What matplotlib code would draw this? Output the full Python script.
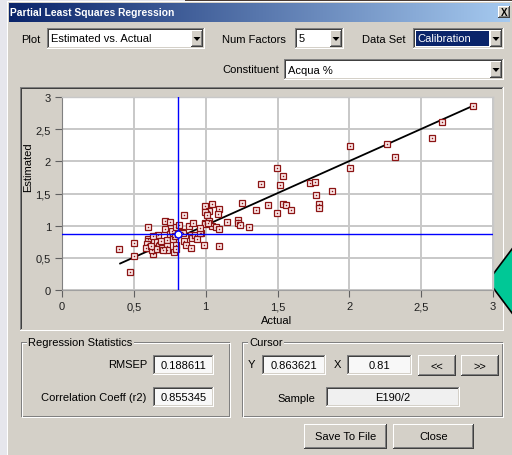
import numpy as np
import matplotlib
matplotlib.use('Agg')
import matplotlib.pyplot as plt
from matplotlib.patches import Rectangle, Polygon

# ---------------- data ----------------
actual = [2.858, 2.642, 2.573, 2.264, 2.320, 2.006, 2.006, 1.499, 1.538, 1.387,
          1.519, 1.728, 1.761, 1.879, 1.770, 1.791, 1.791, 1.536, 1.561, 1.591,
          1.436, 1.352, 1.250, 1.499, 1.227, 1.227, 1.241, 1.301, 1.150, 1.095,
          1.088, 1.046, 0.997, 1.021, 0.997, 1.007, 1.021, 0.997, 0.997, 1.046,
          1.072, 1.095, 0.990, 1.095, 0.967,
          0.399, 0.475, 0.501, 0.499, 0.601, 0.598, 0.598, 0.594, 0.605, 0.585,
          0.631, 0.626, 0.617, 0.654, 0.668, 0.636, 0.663, 0.673, 0.675, 0.661,
          0.696, 0.691, 0.719, 0.749, 0.719, 0.728, 0.733, 0.728, 0.705, 0.752,
          0.768, 0.793, 0.770, 0.775, 0.784, 0.791, 0.781, 0.793, 0.816, 0.849,
          0.810, 0.835, 0.844, 0.849, 0.863, 0.886, 0.914, 0.900, 0.905, 0.896,
          0.926, 0.942, 0.958, 0.960, 1.018]
estimated = [2.860, 2.605, 2.355, 2.270, 2.070, 2.245, 1.890, 1.890, 1.776, 1.651,
             1.625, 1.667, 1.682, 1.542, 1.484, 1.339, 1.276, 1.333, 1.318, 1.245,
             1.328, 1.250, 1.354, 1.193, 1.083, 1.036, 1.010, 0.979, 1.062, 1.260,
             1.177, 1.344, 1.307, 1.234, 1.219, 1.172, 1.067, 1.047, 1.020, 0.995,
             0.979, 0.953, 0.698, 0.677, 0.880,
             0.640, 0.281, 0.521, 0.734, 0.979, 0.797, 0.755, 0.719, 0.656, 0.656,
             0.557, 0.615, 0.677, 0.844, 0.859, 0.833, 0.745, 0.677, 0.630, 0.641,
             0.651, 0.761, 1.073, 1.052, 0.943, 0.781, 0.682, 0.625, 0.625, 0.875,
             0.917, 0.979, 0.818, 0.797, 0.839, 0.693, 0.589, 0.640, 1.016, 1.172,
             0.864, 0.901, 0.891, 0.755, 0.693, 1.000, 1.042, 0.859, 0.812, 0.646,
             0.849, 0.792, 0.885, 0.969, 1.042]
fit_slope = 0.998
fit_intercept = 0.008
cursor_x = 0.81
cursor_y = 0.863621
tick_values = [0, 0.5, 1, 1.5, 2, 2.5, 3]
tick_labels = ['0', '0,5', '1', '1,5', '2', '2,5', '3']

rmsep_text = '0.188611'
r2_text = '0.855345'
cursor_y_text = '0.863621'
cursor_x_text = '0.81'
sample_text = 'E190/2'

FACE = '#d4d0c8'
FONT = 'Liberation Sans'
plt.rcParams['font.family'] = [FONT, 'DejaVu Sans']

W, H = 512, 456
fig = plt.figure(figsize=(W / 100, H / 100), dpi=100)
fig.patch.set_facecolor(FACE)
bg = fig.add_axes([0, 0, 1, 1])
bg.set_xlim(0, W)
bg.set_ylim(H, 0)
bg.axis('off')


def rect(x0, y0, x1, y1, color, z=1):
    bg.add_patch(Rectangle((x0, y0), x1 - x0, y1 - y0, facecolor=color,
                           edgecolor='none', lw=0, zorder=z, antialiased=False))


def hline(x0, x1, y, color, z=2):
    rect(x0, y, x1, y + 1, color, z)


def vline(x, y0, y1, color, z=2):
    rect(x, y0, x + 1, y1, color, z)


def sunken(x0, y0, x1, y1, fill='white', z=1):
    rect(x0, y0, x1, y1, fill, z)
    hline(x0, x1, y0, '#808080', z + 0.1)
    vline(x0, y0, y1, '#808080', z + 0.1)
    hline(x0 + 1, x1 - 1, y0 + 1, '#404040', z + 0.1)
    vline(x0 + 1, y0 + 1, y1 - 1, '#404040', z + 0.1)
    hline(x0, x1, y1 - 1, '#ffffff', z + 0.1)
    vline(x1 - 1, y0, y1, '#ffffff', z + 0.1)
    hline(x0 + 1, x1 - 1, y1 - 2, FACE, z + 0.1)
    vline(x1 - 2, y0 + 1, y1 - 1, FACE, z + 0.1)


def raised(x0, y0, x1, y1, z=3):
    rect(x0, y0, x1, y1, FACE, z)
    hline(x0, x1, y0, '#ffffff', z + 0.1)
    vline(x0, y0, y1, '#ffffff', z + 0.1)
    hline(x0, x1, y1 - 1, '#404040', z + 0.1)
    vline(x1 - 1, y0, y1, '#404040', z + 0.1)
    hline(x0 + 1, x1 - 1, y1 - 2, '#808080', z + 0.1)
    vline(x1 - 2, y0 + 1, y1 - 1, '#808080', z + 0.1)


def label(x, y, s, ha='left', color='black', size=8, weight='normal', z=5):
    bg.text(x, y, s, ha=ha, va='center', color=color, fontsize=size,
            fontweight=weight, zorder=z)


def combo(x0, y0, x1, y1, text, highlight=False):
    sunken(x0, y0, x1, y1, 'white', 2)
    bx0 = x1 - 2 - 12
    raised(bx0, y0 + 2, x1 - 2, y1 - 2, 3)
    cx = (bx0 + x1 - 2) / 2.0
    cy = (y0 + y1) / 2.0
    bg.add_patch(Polygon([[cx - 3.5, cy - 1.5], [cx + 3.5, cy - 1.5], [cx, cy + 2.5]],
                         closed=True, facecolor='black', edgecolor='none', zorder=4))
    if highlight:
        rect(x0 + 3, y0 + 3, bx0 - 1, y1 - 3, '#0a246a', 3)
        label(x0 + 4, cy, text, color='white')
    else:
        label(x0 + 4, cy, text)


def groupbox(x0, y0, x1, y1, text):
    for (c, d) in (('#808080', 0), ('#ffffff', 1)):
        hline(x0 + d, x1, y0 + d, c)
        hline(x0 + d, x1, y1 - 1 + d, c)
        vline(x0 + d, y0 + d, y1 + d, c)
        vline(x1 - 1 + d, y0 + d, y1 + d, c)
    bg.text(x0 + 7, y0, text, ha='left', va='center', fontsize=8, zorder=5,
            bbox=dict(facecolor=FACE, edgecolor='none', pad=1.0))


# desktop background / window frame
rect(0, 0, W, H, '#e6e6ec', 0)
rect(185, 0, W, 3, '#4a3c34', 0.5)
rect(7, 2, W, H, FACE, 0.6)
hline(7, W, 2, '#ffffff', 0.7)
vline(7, 2, H, '#ffffff', 0.7)

# title bar
grad = np.linspace(0, 1, 256).reshape(1, -1)
c0 = np.array([10, 36, 106]) / 255.0
c1 = np.array([166, 202, 240]) / 255.0
img = c0[None, None, :] * (1 - grad[..., None]) + c1[None, None, :] * grad[..., None]
bg.imshow(img, extent=(9, W - 2, 23, 4), aspect='auto', zorder=1, interpolation='bilinear')
bg.set_xlim(0, W)
bg.set_ylim(H, 0)
label(10, 13.5, 'Partial Least Squares Regression', color='white', size=7.4, weight='bold')
raised(498, 7, 510, 19, 3)
label(504, 13, 'X', ha='center', size=7, weight='bold')

# top controls
label(21, 40, 'Plot')
combo(47, 29, 205, 50, 'Estimated vs. Actual')
label(222, 40, 'Num Factors')
combo(295, 29, 344, 50, '5')
label(362, 40, 'Data Set')
combo(413, 29, 504, 50, 'Calibration', highlight=True)
label(222, 70, 'Constituent')
combo(284, 60, 504, 81, 'Acqua %')

# plot panel
sunken(20, 88, 504, 332, FACE, 1)

# bottom group boxes
groupbox(21, 343, 230, 418, 'Regression Statistics')
label(147, 365.5, 'RMSEP', ha='right')
sunken(153, 356, 214, 376, '#f8f8f8', 2)
label(183.5, 366, rmsep_text, ha='center')
label(146, 398.5, 'Correlation Coeff (r2)', ha='right')
sunken(153, 388, 214, 408, '#f8f8f8', 2)
label(183.5, 398, r2_text, ha='center')

groupbox(242, 343, 503, 418, 'Cursor')
label(248, 365, 'Y')
sunken(262, 356, 326, 376, '#f8f8f8', 2)
label(294, 366, cursor_y_text, ha='center')
label(334, 365, 'X')
sunken(347, 356, 412, 376, '#f8f8f8', 2)
label(379.5, 366, cursor_x_text, ha='center')
raised(418, 356, 456, 377, 3)
label(437, 366.5, '<<', ha='center')
raised(461, 356, 499, 377, 3)
label(480, 366.5, '>>', ha='center')
label(277, 399, 'Sample')
sunken(326, 388, 460, 408, '#f0f0f0', 2)
label(393, 398, sample_text, ha='center')

raised(304, 425, 387, 450, 3)
label(345.5, 437.5, 'Save To File', ha='center')
raised(393, 425, 474, 450, 3)
label(433.5, 437.5, 'Close', ha='center')

# ---------------- chart ----------------
L, R, T, B = 62, 493, 98, 291
ax = fig.add_axes([L / W, (H - B) / H, (R - L) / W, (B - T) / H])
ax.set_facecolor('white')
ax.set_xlim(0, 3)
ax.set_ylim(0, 3)
ax.set_xticks(tick_values)
ax.set_xticklabels(tick_labels)
ax.set_yticks(tick_values)
ax.set_yticklabels(tick_labels)
ax.grid(True, color='#c8c8c8', lw=1.4, zorder=0)
ax.set_axisbelow(True)
for s in ('top', 'right'):
    ax.spines[s].set_color('#c8c8c8')
    ax.spines[s].set_linewidth(1.0)
ax.spines['left'].set_color('#808080')
ax.spines['bottom'].set_color('#a0a0a0')
ax.tick_params(axis='both', direction='out', length=5, width=0.8, color='#606060',
               labelsize=8, labelcolor='#202020')
ax.tick_params(axis='y', pad=3)
ax.tick_params(axis='x', pad=3)

xs = np.array([min(actual), max(actual)])
ax.plot(xs, fit_intercept + fit_slope * xs, color='black', lw=1.3, zorder=3,
        solid_capstyle='butt')
ax.plot(actual, estimated, linestyle='none', marker='s', ms=4.2, mfc='#fbeaea',
        mec='#8c1414', mew=0.9, zorder=4, clip_on=False)
ax.plot(actual, estimated, linestyle='none', marker='s', ms=1.0, mfc='#8c1414',
        mec='none', zorder=5, clip_on=False)
ax.axvline(cursor_x, color='#0000ff', lw=1.0, zorder=6)
ax.axhline(cursor_y, color='#0000ff', lw=1.0, zorder=6)
ax.plot([cursor_x], [cursor_y], marker='o', ms=5, mfc='white', mec='#0000ff',
        mew=1.0, zorder=7)

ax.set_xlabel('Actual', fontsize=8)
ax.set_ylabel('Estimated', fontsize=8)
ax.xaxis.set_label_coords((277 - L) / (R - L), (B - 316) / (B - T))
ax.yaxis.set_label_coords((33 - L) / (R - L), (B - 167) / (B - T))

# green diamond from the desktop behind the window
bg.add_patch(Polygon([[488, 282], [530, 226], [572, 282], [530, 338]], closed=True,
                     facecolor='#00c896', edgecolor='black', lw=1.2, zorder=10))

fig.savefig('out.png', dpi=100, facecolor=fig.get_facecolor())
